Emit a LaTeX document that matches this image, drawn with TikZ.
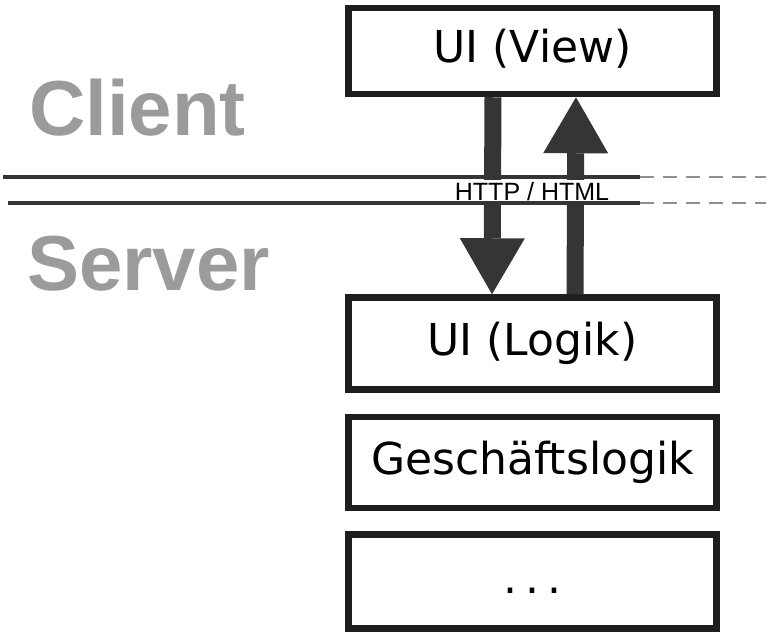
\documentclass[tikz,border=0pt]{standalone}
\usepackage{fontspec}
\usetikzlibrary{positioning, arrows.meta}

\newfontfamily\handfont{DejaVu Sans}
\newfontfamily\labelfont{Liberation Sans}
\definecolor{sidegray}{HTML}{9B9B9B}
\definecolor{arrowgray}{HTML}{353535}
\definecolor{boxline}{HTML}{1E1E1E}

\tikzset{
	layer/.style={draw=boxline, line width=6.5pt, minimum width=368pt, inner sep=0pt,
		text height=32pt, text depth=9pt, font=\handfont\fontsize{44}{50}\selectfont},
	side/.style={text=sidegray, inner sep=0pt, anchor=base west,
		font=\labelfont\bfseries\fontsize{78}{90}\selectfont},
	flow/.style={arrowgray, line width=17pt,
		-{Triangle[length=56pt,width=65pt,line width=0pt]}},
	border/.style={arrowgray, line width=3.5pt},
	fadeborder/.style={arrowgray!55, line width=1.5pt, dash pattern=on 14pt off 9pt}
}

\begin{document}
\begin{tikzpicture}[x=1pt,y=1pt]
	\useasboundingbox (0,0) rectangle (769,-637);
	% layers
	\draw node (view)[layer, minimum height=86pt] at (532.5,-51) {UI (View)};
	\draw node (logik)[layer, minimum height=92pt, below=197pt of view] {UI (Logik)};
	\draw node (gesch)[layer, minimum height=91pt, below=21pt of logik] {Geschäftslogik};
	\draw node (rest)[layer, minimum height=94pt, below=20pt of gesch] {.\hspace{8pt}.\hspace{8pt}.};
	% sides
	\draw node (client)[side] at (29,-135) {Client};
	\draw node (server)[side] at (27,-290) {Server};
	% request / response
	\draw[flow] ([xshift=-39.5pt]view.south) -- ([xshift=-40.5pt]logik.north);
	\draw[flow] ([xshift=42.5pt]logik.north) -- ([xshift=43.5pt]view.south);
	\draw node (proto)[fill=white, inner sep=0pt, text height=20pt, text depth=4pt,
		minimum width=170pt, anchor=base, font=\labelfont\fontsize{25}{30}\selectfont]
		at (532,-200) {HTTP / HTML};
	% border between client and server
	\draw[border] (3,-177) -- (640,-177);
	\draw[fadeborder] (640,-177) -- (766,-177);
	\draw[border] (8,-203) -- (640,-203);
	\draw[fadeborder] (640,-203) -- (766,-203);
\end{tikzpicture}
\end{document}
